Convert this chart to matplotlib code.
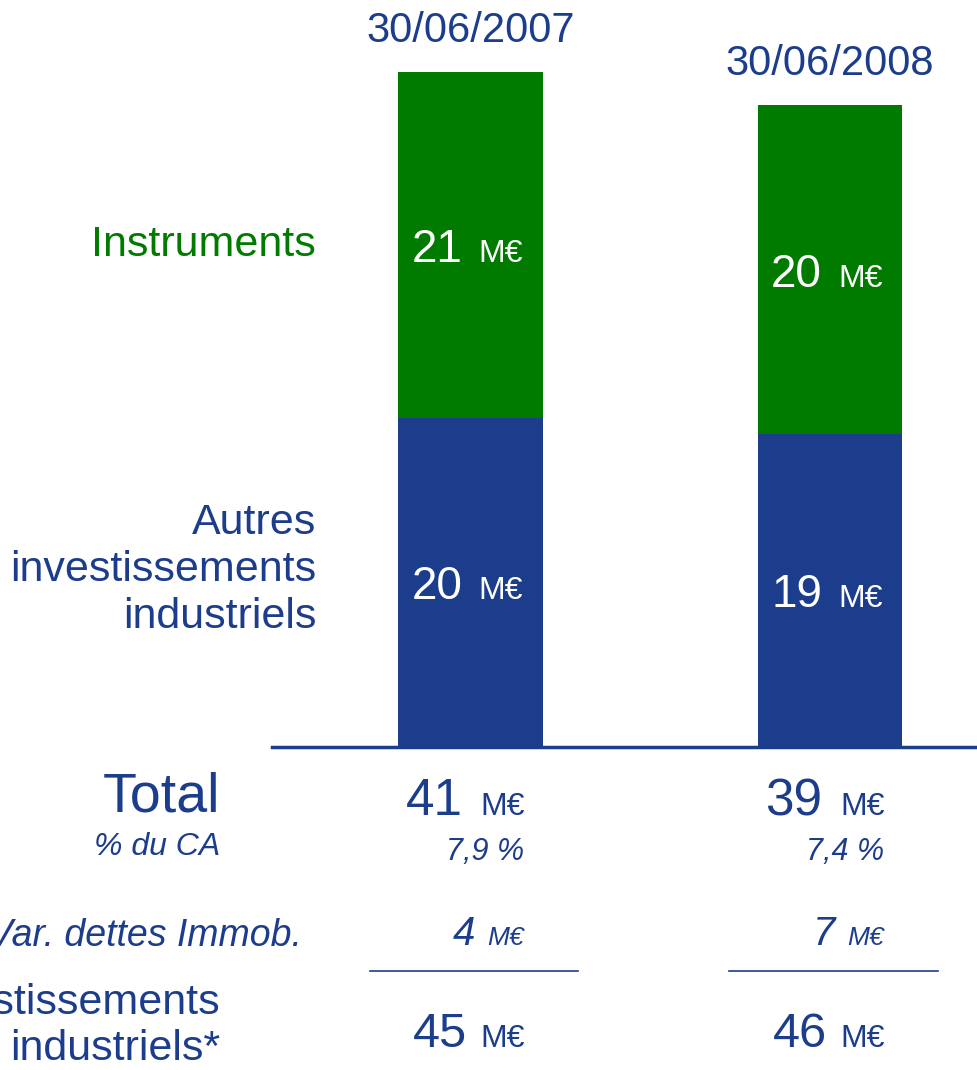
import matplotlib.pyplot as plt
from matplotlib import transforms
from matplotlib.lines import Line2D

# data
dates = ['30/06/2007', '30/06/2008']
autres = [20, 19]
instruments = [21, 20]
total = [41, 39]
pct_ca = ['7,9 %', '7,4 %']
var_dettes = [4, 7]
invest = [45, 46]

BLUE = '#1c3d8c'
GREEN = '#007b00'
plt.rcParams['font.family'] = ['Liberation Sans', 'DejaVu Sans']

W, H = 977, 1070
fig = plt.figure(figsize=(W / 100, H / 100), dpi=100)


def fy(px):
    return 1 - px / H


ax = fig.add_axes([272 / W, fy(747), 705 / W, 747 / H])
x = list(range(len(dates)))
ax.bar(x, autres, width=0.403, color=BLUE, zorder=2)
ax.bar(x, instruments, bottom=autres, width=0.403, color=GREEN, zorder=2)
ax.axhline(0, color=BLUE, lw=2.5, clip_on=False, zorder=1)
ax.set_xlim(-0.552, 1.409)
ax.set_ylim(0, 45.4)
ax.axis('off')


def split_label(xv, yv, num, unit, nsize, usize, color, style='normal',
                trans=None, nl=-8, ur=8):
    # nl / ur: pixel offsets from the column centre for the number's right edge
    # and the unit's left edge
    kw = dict(color=color, style=style, va='baseline')
    if trans is None:
        ax.annotate(num, (xv, yv), xytext=(nl * 0.72, -12), textcoords='offset points',
                    ha='right', fontsize=nsize, **kw)
        ax.annotate(unit, (xv, yv), xytext=(ur * 0.72, -12), textcoords='offset points',
                    ha='left', fontsize=usize, **kw)
    else:
        off_l = transforms.offset_copy(trans, fig=fig, x=nl * 0.72, units='points')
        off_r = transforms.offset_copy(trans, fig=fig, x=ur * 0.72, units='points')
        fig.text(xv, yv, num, transform=off_l, ha='right', fontsize=nsize, **kw)
        fig.text(xv, yv, unit, transform=off_r, ha='left', fontsize=usize, **kw)


for i in x:
    split_label(i, autres[i] / 2, str(autres[i]), 'M€', 33, 23, 'white')
    split_label(i, autres[i] + instruments[i] / 2, str(instruments[i]), 'M€', 33, 23, 'white')
    ax.annotate(dates[i], (i, autres[i] + instruments[i]), xytext=(0, 30),
                textcoords='offset points', ha='center', va='center',
                fontsize=30, color=BLUE)

# category labels
fig.text(316 / W, fy(245), 'Instruments', ha='right', va='center', fontsize=31, color=GREEN)
fig.text(316 / W, fy(570), 'Autres\ninvestissements\nindustriels', ha='right', va='center',
         fontsize=31, color=BLUE, linespacing=1.22)

# rows under the chart
fig.text(220 / W, fy(812), 'Total', ha='right', va='baseline', fontsize=40, color=BLUE)
fig.text(220 / W, fy(855), '% du CA', ha='right', va='baseline', fontsize=23,
         color=BLUE, style='italic')
fig.text(302 / W, fy(946), 'Var. dettes Immob.', ha='right', va='baseline', fontsize=27,
         color=BLUE, style='italic')
fig.text(220 / W, fy(1026), 'Investissements\nindustriels*', ha='right', va='center',
         fontsize=31, color=BLUE, linespacing=1.2)

trans = transforms.blended_transform_factory(ax.transData, fig.transFigure)
for i in x:
    split_label(i, fy(815), str(total[i]), 'M€', 37, 23, BLUE, trans=trans, ur=10)
    t = transforms.offset_copy(trans, fig=fig, x=39, units='points')
    fig.text(i, fy(860), pct_ca[i], transform=t, ha='right', va='baseline',
             fontsize=22, color=BLUE, style='italic')
    split_label(i, fy(945), str(var_dettes[i]), 'M€', 29, 19, BLUE, style='italic',
                trans=trans, nl=5, ur=17)
    fig.add_artist(Line2D([i - 0.28, i + 0.30], [fy(971), fy(971)], transform=trans,
                          color=BLUE, lw=1.2))
    split_label(i, fy(1047), str(invest[i]), 'M€', 35, 23, BLUE, trans=trans, nl=-3, ur=10)

fig.savefig('out.png', dpi=100)
